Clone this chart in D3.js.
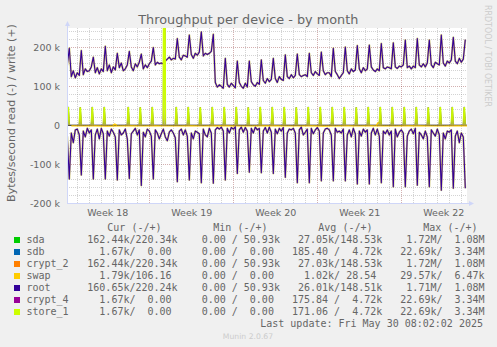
<!DOCTYPE html>
<html><head><meta charset="utf-8">
<script src="https://cdn.jsdelivr.net/npm/d3@7"></script>
<style>
html,body{margin:0;padding:0;background:#F0F0F0;}
svg{display:block;}
text{font-family:"DejaVu Sans",sans-serif;}
.mono{font-family:"DejaVu Sans Mono",monospace;font-size:10px;white-space:pre;}
</style></head><body>
<svg id="c" width="497" height="347"></svg>
<script>
// ---------------- data ----------------
const title = "Throughput per device - by month";
const yLabel = "Bytes/second read (-) / write (+)";
const seriesNames = ["sda","sdb","crypt_2","swap","root","crypt_4","store_1"];
const yTicks = [-200, -100, 0, 100, 200];
const yTickLabels = ["-200 k", "-100 k", "0", "100 k", "200 k"];
const weekStarts = ["2025-04-27", "2025-05-04", "2025-05-11", "2025-05-18", "2025-05-25"];
const weekLabels = ["Week 18", "Week 19", "Week 20", "Week 21", "Week 22"];
const viewStart = "2025-04-27T03:24:00Z";
const viewEnd = "2025-05-30T11:24:00Z";
const firstSample = "2025-04-27T00:00:00Z";   // samples every 4 hours
const sampleHours = 4;

// root / sda / crypt_2 write (k bytes/s), one value per 4 h
const rootWrite = [
 150,155,198,125,140,122, 135,128,192,130,145,138, 140,150,175,135,148,132,
 145,138,203,140,155,135, 150,142,185,148,160,140, 145,155,190,150,140,158,
 150,162,183,145,155,148, 158,165,200,155,162,158, 160,158,165,170,175,168,
 172,170,223,175,168,180, 178,175,232,182,172,185, 180,188,240,178,185,182,
 185,190,234,110, 98,104, 100, 95,172,105, 98,108, 102, 96,165,110,100, 95,
 108, 98,165,112,104,100, 110,105,168,115,108,120, 112,118,172,120,110,125,
 118,115,181,125,120,130, 122,128,183,130,125,128, 130,125,185,135,128,138,
 132,128,188,140,130,135, 135,125,198,138,130,120, 128,135,201,140,132,145,
 138,142,205,145,135,148, 140,145,206,150,142,138, 145,140,210,148,145,150,
 148,145,212,150,146,152, 150,155,219,148,152,145, 152,148,223,155,150,158,
 150,160,219,155,148,162, 158,155,232,160,152,165, 160,168,226,165,158,172,
 162,170,220
];
// root / sda / crypt_2 read (k bytes/s, drawn below zero)
const rootRead = [
  15, 30,138, 20, 45, 12,  10, 25,128, 15, 30,  8,  20, 12,138, 25, 10, 35,
   8, 22,138, 15, 28, 10,  18, 30,141, 12, 25, 20,  10, 35,137, 22, 15,  8,
  25, 12,155, 18, 30, 10,  15, 28,138, 12, 20, 35,  22, 10, 30, 40, 18, 12,
  20, 32,145, 15, 10, 25,  12, 28,141, 20, 35, 15,  18, 22,148, 10, 25, 30,
   8, 20,149, 12,  6, 10,   5, 15,141,  8, 20,  6,  10,  4,124, 12,  5, 18,
   6, 15,121,  8, 20,  5,  12,  8,122, 15,  6, 20,   5, 18,124, 10, 22,  8,
  15,  6,134, 20, 10, 12,   8, 20,148, 12,  5, 25,  18, 10,148,  8, 22, 12,
   6, 15,143, 20, 10,  8,  12, 25,143,  8, 18, 15,  20, 10,143, 25, 12, 30,
   8, 22,151, 15, 28, 10,  18, 12,151, 20,  8, 25,  10, 28,148, 15, 22, 12,
  25, 15,158, 10, 30, 18,  12, 20,158, 28, 15, 10,  22,  8,154, 18, 25, 35,
  15, 30,158, 12, 20, 28,  10, 25,167, 20, 35, 15,  18, 12,162, 28, 15, 45,
  20, 30,162
];
// sdb / crypt_4 / store_1 daily write spike (k bytes/s) at 06:00 each day, 0 = none
const storeSpikeWrite = [
 47,46,47,47, 0,47,46,47,900,47,47,46,47,47,47,46,47,
 47,47,46,47,47,47,47,46,47,47,47,47,47,46,47,47,47
];
const storeSpikeHour = 6;
// swap read (k bytes/s), one value per day at 12:00
const swapRead = [
 1.8,2.0,1.6,2.2,1.9,1.7,2.0,1.8,2.1,1.9,1.7,2.0,1.8,1.6,1.9,2.1,1.8,
 1.7,2.0,1.9,1.8,2.2,1.9,1.7,2.0,1.8,1.9,2.1,1.8,1.7,2.0,1.9,1.8,1.8
];
// swap write bumps
const swapBumpTimes = ["2025-05-01T03:00:00Z", "2025-05-23T02:00:00Z"];
const swapBumpValues = [3, 7];

const legendCur = ["162.44k/220.34k","  1.67k/  0.00 ","162.44k/220.34k","  1.79k/106.16 ","160.65k/220.24k","  1.67k/  0.00 ","  1.67k/  0.00 "];
const legendMin = ["  0.00 / 50.93k","  0.00 /  0.00 ","  0.00 / 50.93k","  0.00 /  0.00 ","  0.00 / 50.93k","  0.00 /  0.00 ","  0.00 /  0.00 "];
const legendAvg = [" 27.05k/148.53k","185.40 /  4.72k"," 27.03k/148.53k","  1.02k/ 28.54 "," 26.01k/148.51k","175.84 /  4.72k","171.06 /  4.72k"];
const legendMax = ["  1.72M/  1.08M"," 22.69k/  3.34M","  1.72M/  1.08M"," 29.57k/  6.47k","  1.71M/  1.08M"," 22.69k/  3.34M"," 22.69k/  3.34M"];
const legendHeaders = ["Cur (-/+)","Min (-/+)","Avg (-/+)","Max (-/+)"];
const lastUpdate = "Last update: Fri May 30 08:02:02 2025";
const footer = "Munin 2.0.67";
const watermark = "RRDTOOL / TOBI OETIKER";

// ---------------- style ----------------
const colors = {sda:"#00CC00", sdb:"#0066B3", crypt_2:"#FF8000", swap:"#FFCC00", root:"#330099", crypt_4:"#990099", store_1:"#CCFF00"};
const FONT = "#666666";

// ---------------- drawing ----------------
const svg = d3.select("#c");
const P = {left:67, top:28, width:400, height:175};
const x = d3.scaleUtc().domain([new Date(viewStart), new Date(viewEnd)]).range([P.left, P.left + P.width]);
const y = d3.scaleLinear().domain([-200, 250]).range([P.top + P.height, P.top]);
const HOUR = 3600 * 1000;
const t0 = new Date(firstSample).getTime();
const sampleTime = i => new Date(t0 + i * sampleHours * HOUR);
const crisp = v => Math.floor(v) + 0.5;

const defs = svg.append("defs");
defs.append("clipPath").attr("id","clip").append("rect")
  .attr("x", P.left).attr("y", P.top).attr("width", P.width).attr("height", P.height);
const grad = defs.append("linearGradient").attr("id","limeGrad")
  .attr("gradientUnits","userSpaceOnUse").attr("x1",0).attr("x2",0)
  .attr("y1", y(40)).attr("y2", y(0));
grad.append("stop").attr("offset","0").attr("stop-color","#ccff00");
grad.append("stop").attr("offset","0.6").attr("stop-color","#c6ee00");
grad.append("stop").attr("offset","1").attr("stop-color","#a8aa40");

// canvas
svg.append("rect").attr("x",P.left).attr("y",P.top).attr("width",P.width).attr("height",P.height).attr("fill","#fff");

// grid
const grid = svg.append("g");
d3.range(-200, 250, 20).forEach(v => {
  const major = v % 100 === 0;
  grid.append("line").attr("x1",P.left).attr("x2",P.left+P.width)
    .attr("y1",crisp(y(v))).attr("y2",crisp(y(v)))
    .attr("stroke", major ? "rgba(130,30,30,0.35)" : "rgba(140,140,140,0.38)")
    .attr("stroke-dasharray","1,1");
});
d3.utcDay.range(x.domain()[0], x.domain()[1]).forEach(d => {
  const major = d.getUTCDay() === 0;
  const xx = crisp(x(d));
  grid.append("line").attr("x1",xx).attr("x2",xx)
    .attr("y1",P.top).attr("y2",P.top+P.height)
    .attr("stroke", major ? "rgba(130,30,30,0.35)" : "rgba(140,140,140,0.38)")
    .attr("stroke-dasharray","1,1");
});

// series
const plot = svg.append("g").attr("clip-path","url(#clip)");
const line = d3.line().x(d => x(d.t)).y(d => y(d.v));
const writePts = rootWrite.map((v,i) => ({t: sampleTime(i), v}));
const readPts = rootRead.map((v,i) => ({t: sampleTime(i), v: -v}));
const spikeTriplets = storeSpikeWrite.map((v,d) => {
  const tc = t0 + (d*24 + storeSpikeHour) * HOUR;
  return {v, pts:[{t:new Date(tc-2*HOUR), v:0},{t:new Date(tc), v},{t:new Date(tc+2*HOUR), v:0}]};
}).filter(s => s.v > 0);

function drawMain(color, width, opacity) {
  [readPts, writePts].forEach(pts => plot.append("path").attr("d", line(pts))
    .attr("fill","none").attr("stroke",color).attr("stroke-width",width)
    .attr("stroke-opacity",opacity).attr("stroke-linejoin","round"));
}
function drawSpikes(color, w) {
  spikeTriplets.forEach(s => plot.append("path").attr("d", line(s.pts))
    .attr("fill","none").attr("stroke",color).attr("stroke-width",w));
}

drawMain(colors.sda, 2.0, 0.22);          // sda
drawSpikes(colors.sdb, 0.8);              // sdb
drawMain(colors.crypt_2, 1.9, 0.4);       // crypt_2

// zero rule
plot.append("line").attr("x1",P.left).attr("x2",P.left+P.width)
  .attr("y1",y(0)).attr("y2",y(0)).attr("stroke","#000").attr("stroke-width",1);

// swap
const swapReadPts = swapRead.map((v,d) => ({t:new Date(t0 + (d*24+12)*HOUR), v:-v}));
plot.append("path").attr("d", line(swapReadPts)).attr("fill","none").attr("stroke",colors.swap).attr("stroke-width",1.1);
swapBumpTimes.forEach((ts,i) => {
  const tc = new Date(ts).getTime();
  const pts = [{t:new Date(tc-4*HOUR),v:0},{t:new Date(tc),v:swapBumpValues[i]},{t:new Date(tc+4*HOUR),v:0}];
  plot.append("path").attr("d", line(pts)).attr("fill","none").attr("stroke",colors.swap).attr("stroke-width",1.2);
});

drawMain(colors.root, 1.1, 1);            // root
drawSpikes(colors.crypt_4, 0.8);          // crypt_4
spikeTriplets.forEach(s => plot.append("path").attr("d", line(s.pts))   // store_1
  .attr("fill","none").attr("stroke","url(#limeGrad)").attr("stroke-width",1.7));

// axes lines + arrows
const AX = "#CFD6F8";
svg.append("line").attr("x1",P.left+0.5).attr("x2",P.left+0.5).attr("y1",P.top+P.height).attr("y2",P.top-3).attr("stroke",AX);
svg.append("path").attr("d",`M${P.left-2},${P.top-2}L${P.left+3},${P.top-2}L${P.left+0.5},${P.top-7}Z`).attr("fill",AX);
svg.append("line").attr("x1",P.left).attr("x2",P.left+P.width+3).attr("y1",crisp(y(-200))).attr("y2",crisp(y(-200))).attr("stroke",AX);
svg.append("path").attr("d",`M${P.left+P.width+2},${crisp(y(-200))-2.5}L${P.left+P.width+2},${crisp(y(-200))+2.5}L${P.left+P.width+7},${crisp(y(-200))}Z`).attr("fill",AX);

// y axis labels
const yAxis = svg.append("g").attr("transform",`translate(${P.left},0)`)
  .call(d3.axisLeft(y).tickValues(yTicks).tickFormat((d,i) => yTickLabels[i]).tickSize(0).tickPadding(7));
yAxis.select(".domain").remove();
yAxis.selectAll("text").attr("fill",FONT).style("font-family","DejaVu Sans").style("font-size","9.5px").attr("dy","0.36em");

// x axis labels
const weekCenters = weekStarts.map(s => new Date(new Date(s + "T00:00:00Z").getTime() + 84*HOUR));
const xAxis = svg.append("g").attr("transform",`translate(0,${P.top+P.height})`)
  .call(d3.axisBottom(x).tickValues(weekCenters).tickFormat((d,i) => weekLabels[i]).tickSize(0).tickPadding(6.3));
xAxis.select(".domain").remove();
xAxis.selectAll("text").attr("fill",FONT).style("font-family","DejaVu Sans").style("font-size","9.5px");

// title
svg.append("text").attr("x",248.3).attr("y",24).attr("text-anchor","middle")
  .attr("fill",FONT).style("font-size","13px").attr("textLength",220).attr("lengthAdjust","spacingAndGlyphs").text(title);
// y label
svg.append("text").attr("transform","translate(15,113) rotate(-90)").attr("text-anchor","middle")
  .attr("fill",FONT).style("font-size","11px").text(yLabel);
// watermark
svg.append("text").attr("transform","translate(485,5) rotate(90)").attr("fill","#cccccc")
  .style("font-size","8px").attr("textLength",102).attr("lengthAdjust","spacingAndGlyphs").text(watermark);

// legend
const L = svg.append("g");
const colX = [87.3, 87.3 + 17*6.02, 87.3 + 34*6.02, 87.3 + 51*6.02];
const headX = [107.3, 213.3, 318.3, 423.3];
legendHeaders.forEach((h,i) => L.append("text").attr("class","mono").attr("x",headX[i]).attr("y",231).attr("fill",FONT).text(h));
const cols = [legendCur, legendMin, legendAvg, legendMax];
seriesNames.forEach((name,i) => {
  const by = 243 + 12*i;
  L.append("rect").attr("x",14).attr("y",by-6).attr("width",6).attr("height",6).attr("fill",colors[name]);
  L.append("text").attr("class","mono").attr("x",26.5).attr("y",by).attr("fill",FONT).text(name);
  cols.forEach((c,j) => L.append("text").attr("class","mono").attr("xml:space","preserve")
    .attr("x",colX[j]).attr("y",by).attr("fill",FONT).text(c[i]));
});
L.append("text").attr("class","mono").attr("x",483).attr("y",327).attr("text-anchor","end").attr("fill",FONT).text(lastUpdate);
svg.append("text").attr("x",248).attr("y",339).attr("text-anchor","middle").attr("fill","#cccccc").style("font-size","7.7px").text(footer);
</script>
</body></html>
